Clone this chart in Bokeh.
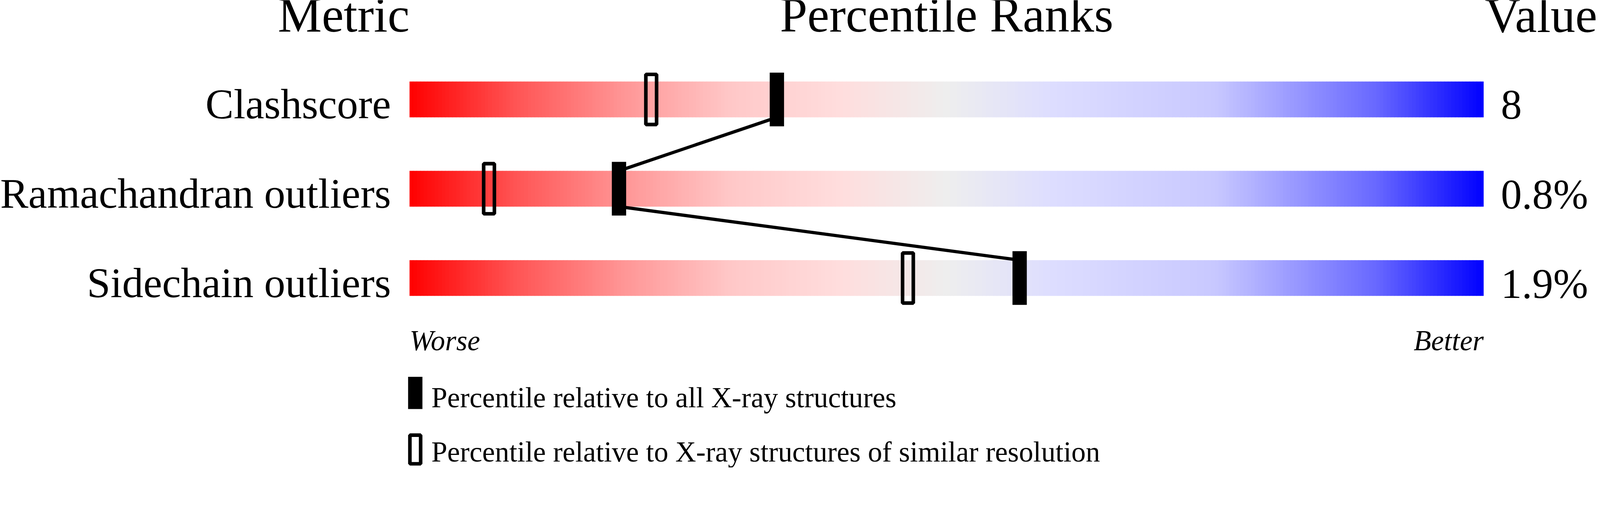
from bokeh.plotting import figure
from bokeh.models import Range1d, ColumnDataSource
from bokeh.core.properties import value
from bokeh.embed import file_html
from bokeh.resources import INLINE

# ---------------- data ----------------
metrics = ["Clashscore", "Ramachandran outliers", "Sidechain outliers"]
value_labels = ["8", "0.8%", "1.9%"]
pct_all = [34.2, 19.5, 56.8]        # percentile relative to all X-ray structures
pct_similar = [22.5, 7.4, 46.4]     # percentile relative to similar resolution
legend_labels = ["Percentile relative to all X-ray structures",
                 "Percentile relative to X-ray structures of similar resolution"]
header_labels = ["Metric", "Percentile Ranks", "Value"]
axis_end_labels = ["Worse", "Better"]

# ---------------- layout constants ----------------
S = 1.091                 # screenshot px per CSS px observed in the renderer
FONT = value("Liberation Serif")
ROW0, ROW_STEP = 286.0, 249.5   # row centres (reference px)
BAR_HALF = 50.0
BAR_X0, PX_PER_PCT = 1152.0, 30.0
W, H = 4094, 1197
MID = 0.3375              # baseline offset of the text centre, in em

def fs(px):
    return "%.1fpx" % (px / S)

def mid_y(baseline, size):
    return baseline - MID * size

def row_y(i):
    return ROW0 + ROW_STEP * i

stops = [(0.00, (255, 0, 0)), (0.10, (255, 85, 85)), (0.20, (255, 150, 150)),
         (0.30, (255, 200, 200)), (0.40, (255, 221, 221)), (0.50, (238, 238, 238)),
         (0.60, (221, 221, 255)), (0.75, (200, 200, 255)), (0.80, (168, 168, 255)),
         (0.90, (104, 104, 255)), (1.00, (0, 0, 255))]

def grad_color(t):
    for (t0, c0), (t1, c1) in zip(stops[:-1], stops[1:]):
        if t <= t1:
            f = (t - t0) / (t1 - t0)
            c = [round(a + (b - a) * f) for a, b in zip(c0, c1)]
            return "#%02x%02x%02x" % tuple(c)
    return "#0000ff"

x0 = (8 * S - BAR_X0) / PX_PER_PCT
x1 = ((8 + W) * S - BAR_X0) / PX_PER_PCT
p = figure(width=W, height=H, output_backend="svg", toolbar_location=None,
           x_range=Range1d(x0, x1), y_range=Range1d((8 + H) * S, 8 * S),
           x_axis_location=None, y_axis_location=None, title_location=None,
           min_border=0, min_border_left=0, min_border_right=0,
           min_border_top=0, min_border_bottom=0)
p.grid.visible = False
p.outline_line_color = None
p.background_fill_color = "white"
p.border_fill_color = "white"

# gradient bars
N = 300
L, R, T, B, C = [], [], [], [], []
for i in range(len(metrics)):
    yc = row_y(i)
    for k in range(N):
        L.append(100.0 * k / N)
        R.append(min(100.0, 100.0 * (k + 1) / N + 0.03))
        T.append(yc - BAR_HALF)
        B.append(yc + BAR_HALF)
        C.append(grad_color((k + 0.5) / N))
p.quad(source=ColumnDataSource(dict(l=L, r=R, t=T, b=B, c=C)),
       left="l", right="r", top="t", bottom="b", fill_color="c", line_color=None)

# connecting line between the "all" markers
lx, ly = [], []
for i, v in enumerate(pct_all):
    if i > 0:
        lx.append(v); ly.append(row_y(i) - BAR_HALF)
    if i < len(pct_all) - 1:
        lx.append(v); ly.append(row_y(i) + BAR_HALF)
p.line(lx, ly, line_color="black", line_width=9 / S)

# markers (sizes in percentile units / reference px)
ys = [row_y(i) for i in range(len(metrics))]
p.rect(x=pct_similar, y=ys, width=30 / PX_PER_PCT, height=140,
       fill_color=None, line_color="black", line_width=10 / S)
p.rect(x=pct_all, y=ys, width=40 / PX_PER_PCT, height=150,
       fill_color="black", line_color=None)

def label(x, baselines, texts, size, align, style="normal"):
    p.text(x=x, y=[mid_y(b, size) for b in baselines], text=texts, text_font=FONT,
           text_font_size=fs(size), text_font_style=style, text_align=align,
           text_baseline="middle", text_color="black")

# headers
label([0], [96], [header_labels[0]], 138, "right")
label([50], [96], [header_labels[1]], 138, "center")
label([100.1], [97], [header_labels[2]], 138, "left")

# row labels and values
label([-1.733] * 3, [y + 53 for y in ys], metrics, 118, "right")
label([101.6] * 3, [y + 55 for y in ys], value_labels, 117, "left")

# worse / better
label([0], [987], [axis_end_labels[0]], 80, "left", "italic")
label([100], [987], [axis_end_labels[1]], 80, "right", "italic")

# legend
leg_x = (1168 - BAR_X0) / PX_PER_PCT
p.rect(x=[leg_x], y=[1106], width=40 / PX_PER_PCT, height=90,
       fill_color="black", line_color=None)
p.rect(x=[leg_x], y=[1264], width=30 / PX_PER_PCT, height=80,
       fill_color=None, line_color="black", line_width=10 / S)
label([(1213 - BAR_X0) / PX_PER_PCT] * 2, [1146, 1298], legend_labels, 80, "left")

open("out.html", "w").write(file_html(p, INLINE))
